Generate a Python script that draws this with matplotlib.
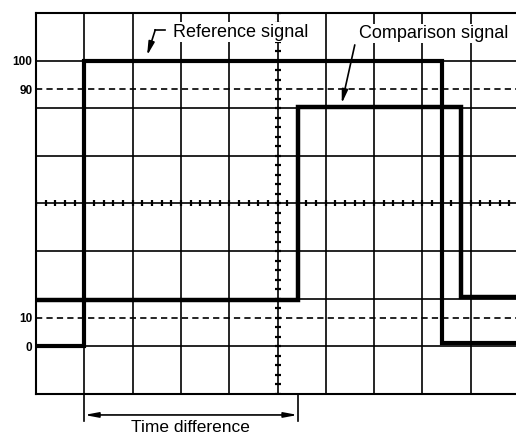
import numpy as np
import matplotlib
matplotlib.use("Agg")
import matplotlib.pyplot as plt

plt.rcParams['font.family'] = ['Liberation Sans', 'DejaVu Sans']
plt.rcParams['lines.scale_dashes'] = False

# ---- data (time in graticule divisions, amplitude in %) ----
ref_t = [0.0, 1.0, 1.0, 8.41, 8.41, 9.94]
ref_v = [0.0, 0.0, 100.0, 100.0, 1.2, 1.2]
cmp_t = [0.0, 5.42, 5.42, 8.80, 8.80, 9.94]
cmp_v = [16.2, 16.2, 83.8, 83.8, 17.2, 17.2]
ytick_vals = [0, 10, 90, 100]
ytick_labels = ['0', '10', '90', '100']
level_lines = [10, 90]
ref_label = 'Reference signal'
cmp_label = 'Comparison signal'
time_label = 'Time difference'

DIV = 100.0 / 6.0  # % per vertical division

fig = plt.figure(figsize=(5.16, 4.36), dpi=100)
ax = fig.add_axes([36 / 516, 42 / 436, 480 / 516, 381 / 436])
ax.set_xlim(0, 480 / 48.3)
ax.set_ylim(-DIV, 7 * DIV)

# graticule
for k in range(1, 10):
    ax.axvline(k, color='black', lw=1.2, zorder=1)
for k in range(0, 7):
    ax.axhline(k * DIV, color='black', lw=1.2, zorder=1)

# centre-line sub-division ticks
sub = np.arange(0, 10.01, 0.2)
ax.plot(sub, np.full_like(sub, 3 * DIV), ls='none', marker='|', ms=5, mew=1.6,
        color='black', zorder=2)
suby = np.arange(-DIV, 7 * DIV + 0.01, DIV / 5)
ax.plot(np.full_like(suby, 5.0), suby, ls='none', marker='_', ms=5, mew=1.6,
        color='black', zorder=2)

# 10 % and 90 % dashed levels
for lv in level_lines:
    ax.axhline(lv, color='black', lw=1.2, dashes=(4.5, 3.0), zorder=1)

# signals
ax.plot(ref_t, ref_v, color='black', lw=3.0, solid_joinstyle='miter', zorder=3)
ax.plot(cmp_t, cmp_v, color='black', lw=3.2, solid_joinstyle='miter', zorder=3)

# axes frame
for s in ['left', 'top', 'bottom']:
    ax.spines[s].set_linewidth(1.5)
ax.spines['right'].set_visible(False)
ax.set_xticks([])
ax.set_yticks(ytick_vals)
ax.set_yticklabels(ytick_labels, fontsize=8.5, fontweight='bold')
ax.tick_params(axis='y', length=0, pad=2.5)

# labels with leaders
ax.text(2.84, 108.3, ref_label, fontsize=13, ha='left', va='baseline', zorder=5,
        bbox=dict(facecolor='white', edgecolor='none', pad=1.0))
ax.plot([2.46, 2.67], [110.8, 110.8], color='black', lw=1.2, zorder=5)
ax.annotate('', xy=(2.30, 101.8), xytext=(2.47, 110.8),
            arrowprops=dict(arrowstyle='-|>,head_length=0.8,head_width=0.18',
                            lw=1.2, color='black', shrinkA=0, shrinkB=0), zorder=5)

ax.text(6.69, 107.9, cmp_label, fontsize=13, ha='left', va='baseline', zorder=5,
        bbox=dict(facecolor='white', edgecolor='none', pad=1.0))
ax.annotate('', xy=(6.33, 85.0), xytext=(6.60, 105.5),
            arrowprops=dict(arrowstyle='-|>,head_length=0.8,head_width=0.18',
                            lw=1.2, color='black', shrinkA=0, shrinkB=0), zorder=5)

# time difference dimension
t0, t1 = ref_t[1], cmp_t[1]
for tx in (t0, t1):
    ax.plot([tx, tx], [-DIV, -26.1], color='black', lw=1.2, clip_on=False)
ax.annotate('', xy=(t0, -24.0), xytext=(t1, -24.0), annotation_clip=False,
            arrowprops=dict(arrowstyle='<|-|>,head_length=0.8,head_width=0.15',
                            lw=1.2, color='black', shrinkA=0, shrinkB=0))
ax.text((t0 + t1) / 2 - 0.02, -30.0, time_label, fontsize=12.5, ha='center',
        va='baseline')

fig.savefig('out.png', dpi=100)
